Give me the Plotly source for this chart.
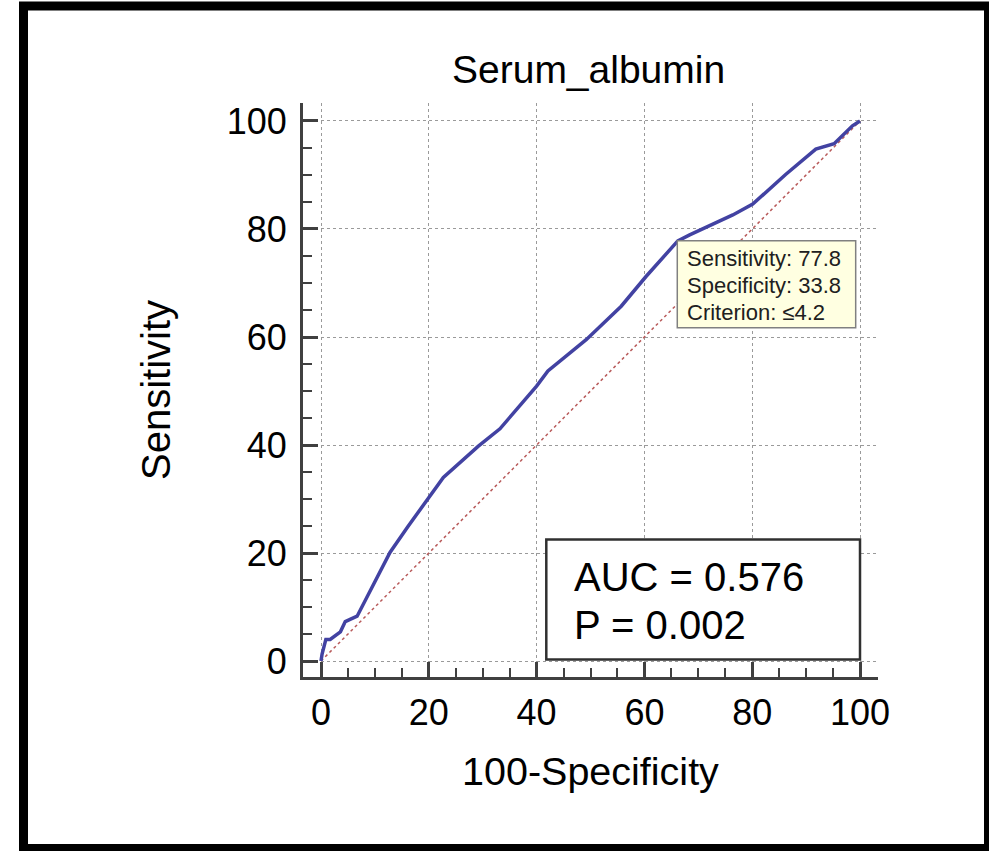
import plotly.graph_objects as go

# ---- data ----
fpr = [0, 0.2, 0.9, 1.7, 3.6, 4.5, 6.7, 9.7, 12.8, 16.2, 19.9, 22.7, 29.2, 33.2,
       40.0, 42.1, 49.2, 55.7, 60.3, 66.2, 68.4, 72.1, 76.4, 80.1, 86.2, 91.8,
       95.2, 98.6, 100]
sens = [0, 1.3, 4.0, 4.0, 5.4, 7.3, 8.3, 14.0, 20.1, 25.0, 30.0, 34.0, 39.8, 43.0,
        50.9, 53.7, 59.5, 65.7, 71.2, 77.8, 78.9, 80.6, 82.6, 84.6, 90.1, 94.8,
        95.8, 99.1, 100]
diag_x = [0, 100]
diag_y = [0, 100]
tick_vals = [0, 20, 40, 60, 80, 100]
tick_text = ["0", "20", "40", "60", "80", "100"]
title_text = "Serum_albumin"
x_title = "100-Specificity"
y_title = "Sensitivity"
auc_lines = ["AUC = 0.576", "P = 0.002"]
tip_lines = ["Sensitivity: 77.8", "Specificity: 33.8", "Criterion: \u22644.2"]

FONT = "Liberation Sans, Arial, sans-serif"
W, H = 989, 851
L, R, T, B = 303, 878, 103, 677  # plot area in page pixels


def px(x):
    return (x - L) / (R - L)


def py(y):
    return (B - y) / (B - T)


fig = go.Figure()
fig.add_trace(go.Scatter(x=diag_x, y=diag_y, mode="lines",
                         line=dict(color="#B85A5A", width=1.5, dash="dot"),
                         hoverinfo="skip", showlegend=False))
fig.add_trace(go.Scatter(x=fpr, y=sens, mode="lines",
                         line=dict(color="#4242A2", width=3.5),
                         showlegend=False))

axis_common = dict(
    tickvals=tick_vals, ticktext=tick_text,
    ticks="inside", ticklen=15, tickwidth=3, tickcolor="#404040",
    showline=True, linecolor="#404040", linewidth=3, mirror=False,
    showgrid=True, gridcolor="#9A9A9A", gridwidth=1.2, griddash="dot",
    zeroline=False,
    tickfont=dict(family=FONT, size=36, color="#000000"),
    minor=dict(dtick=5, tick0=0, ticks="inside", ticklen=9, tickwidth=2,
               tickcolor="#404040", showgrid=False),
)

fig.update_xaxes(range=[-3.34, 103.34], ticklabelstandoff=2, **axis_common)
fig.update_yaxes(range=[-2.96, 103.33], ticklabelstandoff=6, **axis_common)

shapes = [
    # outer black frame
    dict(type="rect", xref="paper", yref="paper",
         x0=px(23.5), x1=px(988.5), y0=py(848.5), y1=py(6),
         line=dict(color="#000000", width=9), fillcolor="rgba(0,0,0,0)", layer="above"),
    # AUC box
    dict(type="rect", xref="x", yref="y", x0=41.8, x1=100.0, y0=0.3, y1=22.5,
         line=dict(color="#303030", width=2.5), fillcolor="#FFFFFF", layer="above"),
    # tooltip box
    dict(type="rect", xref="x", yref="y", x0=66.1, x1=99.2, y0=61.7, y1=77.8,
         line=dict(color="#808080", width=1.5), fillcolor="#FFFFE1", layer="above"),
]

annotations = [
    dict(text=title_text, xref="paper", yref="paper", x=px(588), y=py(70),
         xanchor="center", yanchor="middle", showarrow=False,
         font=dict(family=FONT, size=39, color="#000000")),
    dict(text=x_title, xref="paper", yref="paper", x=px(590), y=py(771),
         xanchor="center", yanchor="middle", showarrow=False,
         font=dict(family=FONT, size=39.5, color="#000000")),
    dict(text=y_title, xref="paper", yref="paper", x=px(156), y=0.5,
         xanchor="center", yanchor="middle", showarrow=False, textangle=-90,
         font=dict(family=FONT, size=40, color="#000000")),
]
for txt, yv in zip(auc_lines, [15.6, 6.7]):
    annotations.append(dict(text=txt, xref="x", yref="y", x=46.6, y=yv,
                            xanchor="left", yanchor="middle", showarrow=False,
                            font=dict(family=FONT, size=40, color="#000000")))
for txt, yv in zip(tip_lines, [74.6, 69.5, 64.6]):
    annotations.append(dict(text=txt, xref="x", yref="y", x=67.6, y=yv,
                            xanchor="left", yanchor="middle", showarrow=False,
                            font=dict(family=FONT, size=22, color="#202020")))

fig.update_layout(
    width=W, height=H,
    margin=dict(l=L, r=W - R, t=T, b=H - B, pad=0),
    paper_bgcolor="#FFFFFF", plot_bgcolor="#FFFFFF",
    shapes=shapes, annotations=annotations,
    showlegend=False,
)

fig.write_html("out.html",
               config={"displayModeBar": False},
               post_script="document.body.style.margin='0';document.body.style.overflow='hidden';")
